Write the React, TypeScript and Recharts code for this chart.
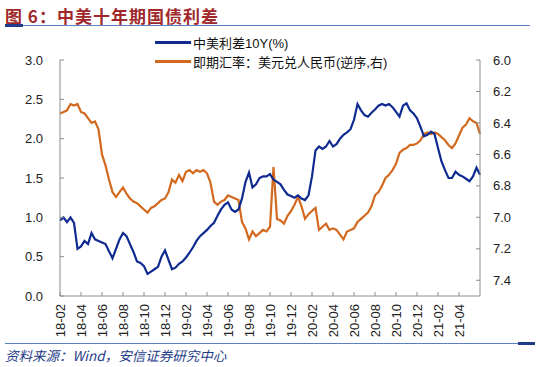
import { LineChart, Line, XAxis, YAxis } from 'recharts'

// x-axis tick labels, one every two months starting 2018-02
const tickLabels = [
  '18-02', '18-04', '18-06', '18-08', '18-10', '18-12',
  '19-02', '19-04', '19-06', '19-08', '19-10', '19-12',
  '20-02', '20-04', '20-06', '20-08', '20-10', '20-12',
  '21-02', '21-04',
]

// China-US 10Y spread (%), sampled roughly every 10 days from 2018-02
const spread = [
  0.96, 1.0, 0.94, 1.0, 0.93, 0.6, 0.63, 0.7, 0.66, 0.8,
  0.72, 0.7, 0.68, 0.66, 0.57, 0.48, 0.6, 0.72, 0.8, 0.76,
  0.66, 0.56, 0.44, 0.42, 0.38, 0.28, 0.31, 0.34, 0.37, 0.5,
  0.58, 0.46, 0.34, 0.36, 0.41, 0.44, 0.49, 0.55, 0.62, 0.7,
  0.76, 0.8, 0.84, 0.89, 0.93, 1.02, 1.1, 1.16, 1.19, 1.1,
  1.07, 1.1, 1.24, 1.45, 1.57, 1.38, 1.42, 1.5, 1.52, 1.52,
  1.55, 1.48, 1.45, 1.42, 1.35, 1.29, 1.27, 1.25, 1.28, 1.24,
  1.22, 1.28, 1.52, 1.85, 1.9, 1.87, 1.9, 1.97, 1.9, 1.93,
  2.0, 2.05, 2.08, 2.12, 2.24, 2.44, 2.36, 2.3, 2.28, 2.33,
  2.37, 2.42, 2.44, 2.42, 2.44, 2.4, 2.34, 2.28, 2.42, 2.45,
  2.36, 2.32, 2.26, 2.15, 2.03, 2.05, 2.09, 2.06, 1.88, 1.71,
  1.6, 1.5, 1.5, 1.58, 1.54, 1.52, 1.49, 1.46, 1.52, 1.63,
  1.54,
]

// USD/CNY spot, same sampling (plotted on a reversed right axis)
const usdcny = [
  6.34, 6.33, 6.32, 6.28, 6.29, 6.28, 6.33, 6.34, 6.37, 6.4,
  6.39, 6.44, 6.6, 6.67, 6.76, 6.84, 6.87, 6.84, 6.81, 6.85,
  6.88, 6.9, 6.91, 6.93, 6.95, 6.97, 6.94, 6.93, 6.91, 6.89,
  6.88, 6.84, 6.76, 6.78, 6.73, 6.77, 6.71, 6.7, 6.72, 6.7,
  6.71, 6.7, 6.72, 6.78, 6.9, 6.92, 6.9, 6.89, 6.86, 6.87,
  6.88, 6.89, 7.03, 7.07, 7.14, 7.09, 7.12, 7.1, 7.08, 7.09,
  7.06, 6.68, 7.01, 7.02, 7.04, 6.99, 6.96, 6.92, 6.87, 6.93,
  7.01, 6.98, 6.96, 6.94, 7.08, 7.06, 7.04, 7.08, 7.07, 7.08,
  7.11, 7.14, 7.09, 7.08, 7.07, 7.03, 7.01, 6.99, 6.97, 6.93,
  6.86, 6.84, 6.8, 6.75, 6.73, 6.7, 6.66, 6.59, 6.57, 6.56,
  6.54, 6.54, 6.53, 6.51, 6.47, 6.46, 6.47, 6.46, 6.47, 6.49,
  6.51, 6.54, 6.56, 6.53, 6.48, 6.43, 6.41, 6.37, 6.39, 6.4,
  6.47,
]

const leftTicks = [0, 0.5, 1, 1.5, 2, 2.5, 3]
const rightTicks = [6.0, 6.2, 6.4, 6.6, 6.8, 7.0, 7.2, 7.4]

const BLUE = '#0f2a90'
const ORANGE = '#d2691e'
const AXIS = '#8c8c8c'
const FONT = '"Liberation Sans", Arial, "Noto Sans CJK SC", sans-serif'

const data = spread.map((v, i) => ({ t: i / 3, spread: v, fx: usdcny[i] }))
const xTicks = tickLabels.map((_, i) => i * 2)

const legendRows = [
  { color: BLUE, label: '中美利差10Y(%)' },
  { color: ORANGE, label: '即期汇率：美元兑人民币(逆序,右)' },
]

function MonthTick(props: any) {
  const { x, y, payload } = props
  return (
    <text
      x={x}
      y={y}
      transform={`rotate(-90, ${x}, ${y})`}
      textAnchor="end"
      dy="0.35em"
      fontSize={13}
      fill="#222"
      fontFamily={FONT}
    >
      {tickLabels[Math.round(payload.value / 2)]}
    </text>
  )
}

export default function App() {
  return (
    <div style={{ position: 'absolute', left: 0, top: 0, width: 550, height: 367, background: '#fff' }}>
      <div
        style={{
          position: 'absolute', left: 5, top: 3, fontSize: 17, fontWeight: 700,
          color: '#a0282a', fontFamily: '"Noto Sans CJK SC", sans-serif', letterSpacing: 1,
          whiteSpace: 'nowrap',
        }}
      >
        图 6：中美十年期国债利差
      </div>
      <div style={{ position: 'absolute', left: 5, top: 25, width: 525, height: 1, background: '#5b7fc0' }} />
      <div style={{ position: 'absolute', left: 5, top: 24, width: 18, height: 3, background: '#1f3c88' }} />

      <LineChart width={550} height={367} data={data} margin={{ top: 60, right: 0, bottom: 29, left: 0 }}>
        <XAxis
          dataKey="t"
          type="number"
          domain={[0, 40]}
          ticks={xTicks}
          interval={0}
          height={42}
          tickSize={-4}
          tickMargin={12}
          stroke={AXIS}
          tick={<MonthTick />}
        />
        <YAxis
          yAxisId="left"
          domain={[0, 3]}
          ticks={leftTicks}
          width={60}
          tickSize={-4}
          tickMargin={21}
          stroke={AXIS}
          tick={{ fontSize: 13, fill: '#222', fontFamily: FONT }}
          tickFormatter={(v: number) => v.toFixed(1)}
        />
        <YAxis
          yAxisId="right"
          orientation="right"
          reversed
          domain={[6.0, 7.5]}
          ticks={rightTicks}
          width={70}
          tickSize={-4}
          tickMargin={17}
          stroke={AXIS}
          tick={{ fontSize: 13, fill: '#222', fontFamily: FONT, textAnchor: 'start' }}
          tickFormatter={(v: number) => v.toFixed(1)}
        />
        <Line
          yAxisId="right"
          dataKey="fx"
          stroke={ORANGE}
          strokeWidth={2.2}
          dot={false}
          isAnimationActive={false}
          type="linear"
        />
        <Line
          yAxisId="left"
          dataKey="spread"
          stroke={BLUE}
          strokeWidth={2.2}
          dot={false}
          isAnimationActive={false}
          type="linear"
        />
      </LineChart>

      <div style={{ position: 'absolute', left: 155, top: 33, fontFamily: FONT, fontSize: 13, color: '#111' }}>
        {legendRows.map((r) => (
          <div key={r.label} style={{ display: 'flex', alignItems: 'center', height: 19, whiteSpace: 'nowrap' }}>
            <span style={{ width: 36, height: 2.5, background: r.color, marginRight: 2 }} />
            <span>{r.label}</span>
          </div>
        ))}
      </div>

      <div style={{ position: 'absolute', left: 5, top: 343, width: 530, height: 1, background: '#5b7fc0' }} />
      <div style={{ position: 'absolute', left: 518, top: 342, width: 17, height: 3, background: '#1f3c88' }} />
      <div
        style={{
          position: 'absolute', left: 5, top: 345, fontSize: 13.5, fontStyle: 'italic',
          color: '#1f3c88', fontFamily: '"Noto Sans CJK SC", sans-serif', whiteSpace: 'nowrap',
        }}
      >
        资料来源：Wind，安信证券研究中心
      </div>
    </div>
  )
}
